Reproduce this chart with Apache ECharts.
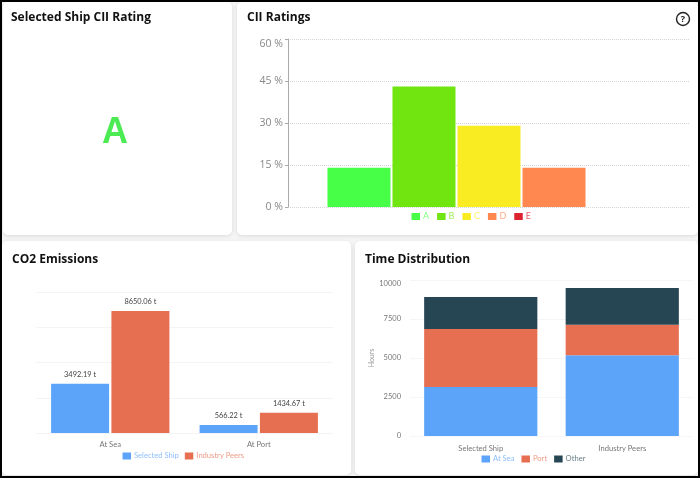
<!DOCTYPE html>
<html>
<head>
<meta charset="utf-8">
<style>html,body{margin:0;padding:0;background:#000;}#c{width:700px;height:478px;}</style>
<script src="https://cdn.jsdelivr.net/npm/echarts@6/dist/echarts.min.js"></script>
</head>
<body>
<div id="c"></div>
<script>
const FONT = '"Open Sans", sans-serif';
const SMALL = 'Lato, sans-serif';
const ciiNames = ['A', 'B', 'C', 'D', 'E'];
const ciiValues = [14, 43, 29, 14, 0];
const ciiColors = ['#48ff48', '#70e510', '#faec22', '#ff8850', '#dc2430'];
const ciiTicks = [0, 15, 30, 45, 60];

const co2Categories = ['At Sea', 'At Port'];
const co2Selected = [3492.19, 566.22];
const co2Peers = [8650.06, 1434.67];

const timeCategories = ['Selected Ship', 'Industry Peers'];
const timeAtSea = [3140, 5170];
const timePort = [3720, 1965];
const timeOther = [2050, 2355];

const BLUE = '#5ca4fa', RED = '#e76f51', NAVY = '#264653';
const titles = [['Selected Ship CII Rating', 11, 18], ['CII Ratings', 247, 18], ['CO2 Emissions', 12, 260], ['Time Distribution', 365, 260]];
const cards = [[3, 2, 229, 233], [237, 2, 461, 233], [2, 241, 349, 234], [355, 241, 343, 234]];

const graphic = [
  { type: 'rect', z: -10, shape: { x: 2, y: 2, width: 696, height: 474 }, style: { fill: '#f6f6f6' } }
];
cards.forEach(c => graphic.push({
  type: 'rect', z: -9, shape: { x: c[0], y: c[1], width: c[2], height: c[3], r: 5 },
  style: { fill: '#fff', shadowBlur: 4, shadowColor: 'rgba(0,0,0,0.12)', shadowOffsetY: 1 }
}));
titles.forEach(t => graphic.push({
  type: 'text', z: 5, x: t[1], y: t[2],
  style: { text: t[0], fill: '#111', font: '700 12px ' + FONT, verticalAlign: 'middle', textAlign: 'left' }
}));
graphic.push({ type: 'text', z: 5, x: 115, y: 133.5, style: { text: 'A', fill: '#4ceb54', font: '700 36px "Liberation Sans", sans-serif', textAlign: 'center', verticalAlign: 'middle' } });
graphic.push({ type: 'circle', z: 5, shape: { cx: 683, cy: 19, r: 6.5 }, style: { fill: '#fff', stroke: '#222', lineWidth: 1.4 } });
graphic.push({ type: 'text', z: 6, x: 683, y: 19.5, style: { text: '?', fill: '#222', font: '700 9px ' + FONT, textAlign: 'center', verticalAlign: 'middle' } });

const legendText = { fontFamily: SMALL, color: 'inherit', opacity: 0.7, padding: [0, 0, 0, -2] };

const option = {
  animation: false,
  textStyle: { fontFamily: SMALL },
  graphic,
  legend: [
    { data: ciiNames, left: 411.5, top: 212, padding: 0, icon: 'rect', itemWidth: 8.5, itemHeight: 7, itemGap: 8, textStyle: { ...legendText, fontSize: 9 } },
    { data: ['Selected Ship', 'Industry Peers'], left: 122.5, top: 452, padding: 0, icon: 'rect', itemWidth: 8.5, itemHeight: 7, itemGap: 6, textStyle: { ...legendText, fontSize: 7.6 } },
    { data: ['At Sea', 'Port', 'Other'], left: 481.5, top: 455, padding: 0, icon: 'rect', itemWidth: 8.5, itemHeight: 7, itemGap: 7, textStyle: { ...legendText, fontSize: 7.6 } }
  ],
  grid: [
    { left: 288, top: 39, width: 402, height: 168 },
    { left: 36, top: 292, width: 297, height: 141 },
    { left: 410, top: 280, width: 283, height: 156 }
  ],
  xAxis: [
    { gridIndex: 0, type: 'category', data: ['CII'], axisLine: { show: false }, axisTick: { show: false }, axisLabel: { show: false } },
    { gridIndex: 1, type: 'category', data: co2Categories, axisLine: { show: false }, axisTick: { show: false }, axisLabel: { color: '#777', fontSize: 7.6, margin: 8 } },
    { gridIndex: 2, type: 'category', data: timeCategories, axisLine: { show: false }, axisTick: { show: false }, axisLabel: { color: '#777', fontSize: 7.6, margin: 9 } }
  ],
  yAxis: [
    { gridIndex: 0, type: 'value', min: ciiTicks[0], max: ciiTicks[4], interval: 15,
      axisLine: { show: true, lineStyle: { color: '#aaa', width: 1 } }, axisTick: { show: true, length: 3, lineStyle: { color: '#aaa' } },
      axisLabel: { formatter: '{value} %', color: '#888', fontSize: 10.5, fontFamily: FONT, margin: 5, verticalAlignMaxLabel: 'top' },
      splitLine: { lineStyle: { type: 'dotted', color: '#d4d4d4', width: 1 } } },
    { gridIndex: 1, type: 'value', min: 0, max: 10000, interval: 2500, axisLabel: { show: false }, axisLine: { show: false }, axisTick: { show: false },
      splitLine: { lineStyle: { color: '#f4f4f4' } } },
    { gridIndex: 2, type: 'value', min: 0, max: 10000, interval: 2500, name: 'Hours', nameLocation: 'middle', nameGap: 17,
      nameTextStyle: { color: '#999', fontSize: 7 },
      axisLine: { show: false }, axisTick: { show: false },
      axisLabel: { color: '#777', fontSize: 7.5, margin: 9, verticalAlignMaxLabel: 'top', formatter: v => String(v) },
      splitLine: { lineStyle: { color: '#f6f6f6' } } }
  ],
  series: [
    ...ciiNames.map((n, i) => ({
      name: n, type: 'bar', xAxisIndex: 0, yAxisIndex: 0, data: [ciiValues[i]], barWidth: 63, barGap: '3.2%',
      itemStyle: { color: ciiColors[i] }
    })),
    { name: 'Selected Ship', type: 'bar', xAxisIndex: 1, yAxisIndex: 1, data: co2Selected, barWidth: 58, barGap: '4%', itemStyle: { color: BLUE },
      label: { show: true, position: 'top', distance: 6, formatter: p => p.value.toFixed(2) + ' t', color: '#444', fontSize: 7.4 } },
    { name: 'Industry Peers', type: 'bar', xAxisIndex: 1, yAxisIndex: 1, data: co2Peers, barWidth: 58, itemStyle: { color: RED },
      label: { show: true, position: 'top', distance: 6, formatter: p => p.value.toFixed(2) + ' t', color: '#444', fontSize: 7.4 } },
    { name: 'At Sea', type: 'bar', stack: 't', xAxisIndex: 2, yAxisIndex: 2, data: timeAtSea, barWidth: '80%', itemStyle: { color: BLUE } },
    { name: 'Port', type: 'bar', stack: 't', xAxisIndex: 2, yAxisIndex: 2, data: timePort, itemStyle: { color: RED } },
    { name: 'Other', type: 'bar', stack: 't', xAxisIndex: 2, yAxisIndex: 2, data: timeOther, itemStyle: { color: NAVY } }
  ]
};
echarts.init(document.getElementById('c')).setOption(option);
</script>
</body>
</html>
